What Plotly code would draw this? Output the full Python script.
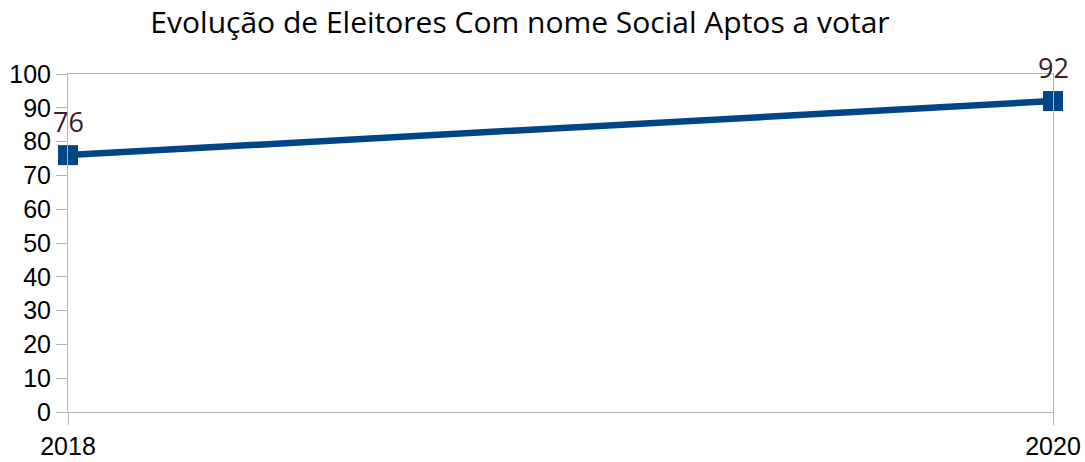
import plotly.graph_objects as go

years = [2018, 2020]
values = [76, 92]
y_ticks = list(range(0, 101, 10))

fig = go.Figure()
fig.add_trace(go.Scatter(
    x=years, y=values, mode="lines+markers",
    line=dict(color="#004586", width=6.5),
    marker=dict(symbol="square", size=20, color="#004586"),
    cliponaxis=False, showlegend=False, hoverinfo="skip",
))

for yr, v in zip(years, values):
    fig.add_annotation(x=yr, y=v, text=str(v), showarrow=False,
                       yanchor="middle", yshift=34,
                       font=dict(family="Open Sans", size=27, color="#3d1a2b"))

fig.update_layout(
    width=1085, height=462,
    margin=dict(l=68, r=32, t=74, b=50),
    paper_bgcolor="white", plot_bgcolor="white",
    title=dict(text="Evolução de Eleitores Com nome Social Aptos a votar",
               x=520/1085, xanchor="center", y=1-22/462, yanchor="middle",
               font=dict(family="Open Sans", size=30, color="black")),
    xaxis=dict(type="linear", range=[years[0], years[-1]], tickvals=years,
               ticktext=[str(y) for y in years],
               showgrid=True, gridcolor="#b3b3b3", zeroline=False,
               showline=True, linecolor="#b3b3b3", mirror=True, automargin=False,
               ticks="outside", ticklen=12, tickcolor="#b3b3b3",
               tickfont=dict(family="Liberation Sans", size=25, color="black")),
    yaxis=dict(range=[0, 100], tickvals=y_ticks, showgrid=False, zeroline=False,
               showline=True, linecolor="#b3b3b3", mirror=True, automargin=False,
               ticks="outside", ticklen=11, tickcolor="#b3b3b3",
               tickfont=dict(family="Liberation Sans", size=25, color="black")),
)

fig.write_html("out.html", config={"displayModeBar": False},
               post_script="document.body.style.margin='0';")
